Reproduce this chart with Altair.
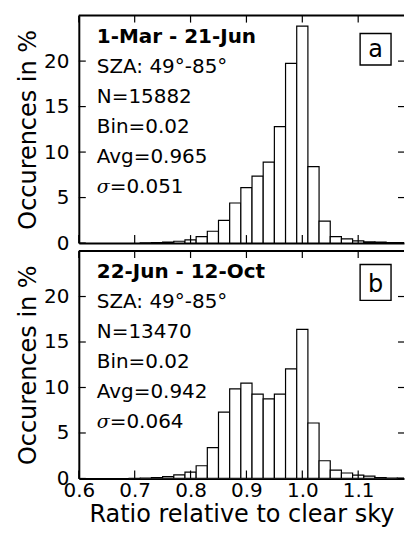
import altair as alt
import pandas as pd

# Histogram of the ratio to clear-sky irradiance, two seasons
bin_width = 0.02

centers_a = [0.72, 0.74, 0.76, 0.78, 0.80, 0.82, 0.84, 0.86, 0.88, 0.90, 0.92, 0.94,
             0.96, 0.98, 1.00, 1.02, 1.04, 1.06, 1.08, 1.10, 1.12, 1.14, 1.16, 1.18]
pct_a = [0.02, 0.05, 0.10, 0.20, 0.35, 0.70, 1.30, 2.50, 4.40, 6.10, 7.35, 8.90,
         12.80, 19.75, 23.85, 8.40, 2.40, 0.70, 0.45, 0.25, 0.12, 0.10, 0.05, 0.04]

centers_b = [0.70, 0.72, 0.74, 0.76, 0.78, 0.80, 0.82, 0.84, 0.86, 0.88, 0.90, 0.92,
             0.94, 0.96, 0.98, 1.00, 1.02, 1.04, 1.06, 1.08, 1.10, 1.12, 1.14, 1.16, 1.18]
pct_b = [0.02, 0.05, 0.10, 0.20, 0.40, 0.70, 1.40, 3.40, 7.30, 9.85, 10.47, 9.27,
         8.76, 9.27, 12.04, 16.39, 6.10, 1.95, 0.92, 0.60, 0.37, 0.25, 0.10, 0.05, 0.03]

x_ticks = [0.6, 0.7, 0.8, 0.9, 1.0, 1.1]
y_ticks = [0, 5, 10, 15, 20]
x_domain = [0.6, 1.182]
y_domain = [0, 25]

panels = [
    {"letter": "a", "period": "1-Mar - 21-Jun", "sza": "SZA: 49°-85°", "n": "N=15882",
     "bin": "Bin=0.02", "avg": "Avg=0.965", "sigma": "=0.051",
     "centers": centers_a, "pct": pct_a},
    {"letter": "b", "period": "22-Jun - 12-Oct", "sza": "SZA: 49°-85°", "n": "N=13470",
     "bin": "Bin=0.02", "avg": "Avg=0.942", "sigma": "=0.064",
     "centers": centers_b, "pct": pct_b},
]

W, H = 326, 228
FONT = "DejaVu Sans"
TICK = 7


def one_line(text):
    return alt.Chart(pd.DataFrame({"t": [text]}))


def panel(p, bottom):
    df = pd.DataFrame({"center": p["centers"], "pct": p["pct"]})
    df["lo"] = df["center"] - bin_width / 2
    df["hi"] = df["center"] + bin_width / 2

    xs = alt.Scale(domain=x_domain, nice=False, zero=False)
    ys = alt.Scale(domain=y_domain, nice=False)

    x_kw = dict(values=x_ticks, format=".1f", labels=bottom, ticks=False, tickSize=0,
                domain=True, domainWidth=2, domainColor="black", grid=False,
                labelFontSize=20, labelFont=FONT, labelColor="black", labelPadding=2,
                labelFlush=False, labelOverlap=False)
    if bottom:
        x_kw.update(title="Ratio relative to clear sky", titleFontSize=24, titleFont=FONT,
                    titleFontWeight="normal", titleColor="black", titlePadding=2)
    else:
        x_kw.update(title=None)
    x_axis = alt.Axis(**x_kw)
    y_axis = alt.Axis(values=y_ticks, ticks=False, tickSize=0, domain=True, domainWidth=2,
                      domainColor="black", grid=False, labelFontSize=20, labelFont=FONT,
                      labelColor="black", labelPadding=10, title="Occurences in %",
                      titleFontSize=24, titleFont=FONT, titleFontWeight="normal",
                      titleColor="black", titlePadding=3)

    def X(field):
        return alt.X(field, scale=xs, axis=x_axis)

    def Y(field):
        return alt.Y(field, scale=ys, axis=y_axis)

    bars = alt.Chart(df).mark_rect(fill="white", stroke="black", strokeWidth=1.2,
                                   clip=True).encode(
        x=X("lo:Q"), x2="hi:Q", y=Y("pct:Q"), y2=alt.datum(0))

    ytk = pd.DataFrame({"v": y_ticks})
    xtk = pd.DataFrame({"v": x_ticks})
    left_ticks = alt.Chart(ytk).mark_rule(color="black", strokeWidth=1.2).encode(
        y=Y("v:Q"), x=alt.value(0), x2=alt.value(TICK))
    right_ticks = alt.Chart(ytk).mark_rule(color="black", strokeWidth=1.2).encode(
        y=Y("v:Q"), x=alt.value(W - TICK + 1), x2=alt.value(W))
    top_ticks = alt.Chart(xtk).mark_rule(color="black", strokeWidth=1.2).encode(
        x=X("v:Q"), y=alt.value(0), y2=alt.value(TICK))
    bot_ticks = alt.Chart(xtk).mark_rule(color="black", strokeWidth=1.2).encode(
        x=X("v:Q"), y=alt.value(H - TICK - 1), y2=alt.value(H))
    top_edge = alt.Chart(pd.DataFrame({"v": [y_domain[1]]})).mark_rule(
        color="black", strokeWidth=2).encode(y=Y("v:Q"), x=alt.value(0), x2=alt.value(W))

    layers = [bars, left_ticks, right_ticks, top_ticks, bot_ticks, top_edge]

    # statistics block in the upper left corner
    tx = 18
    y0, dy = 27.5, 30
    layers.append(one_line(p["period"]).mark_text(
        align="left", baseline="alphabetic", font=FONT, fontSize=20, fontWeight="bold",
        color="black").encode(text="t:N", x=alt.value(tx), y=alt.value(y0)))
    for i, key in enumerate(["sza", "n", "bin", "avg"], start=1):
        layers.append(one_line(p[key]).mark_text(
            align="left", baseline="alphabetic", font=FONT, fontSize=20,
            color="black").encode(text="t:N", x=alt.value(tx), y=alt.value(y0 + dy * i)))
    layers.append(one_line("σ").mark_text(
        align="left", baseline="alphabetic", font="DejaVu Serif", fontSize=19,
        fontStyle="italic", color="black").encode(
        text="t:N", x=alt.value(tx), y=alt.value(y0 + dy * 5)))
    layers.append(one_line(p["sigma"]).mark_text(
        align="left", baseline="alphabetic", font=FONT, fontSize=20,
        color="black").encode(text="t:N", x=alt.value(tx + 13), y=alt.value(y0 + dy * 5)))

    # boxed panel letter
    box_top = 18 if p["letter"] == "a" else 13.5
    layers.append(one_line(p["letter"]).mark_rect(
        fill="white", stroke="black", strokeWidth=1.4).encode(
        x=alt.value(282), x2=alt.value(313), y=alt.value(box_top), y2=alt.value(49.5)))
    layers.append(one_line(p["letter"]).mark_text(
        align="center", baseline="alphabetic", font=FONT, fontSize=24,
        color="black").encode(text="t:N", x=alt.value(297.5), y=alt.value(41.5)))

    return alt.layer(*layers).properties(width=W, height=H)


chart = alt.vconcat(panel(panels[0], False), panel(panels[1], True),
                    spacing=8, bounds="flush").properties(
    padding={"left": 16, "top": 13, "right": 0, "bottom": 0},
    background="white",
).configure_view(stroke="transparent")

chart.save("out.html", embed_options={"renderer": "svg", "actions": False})
